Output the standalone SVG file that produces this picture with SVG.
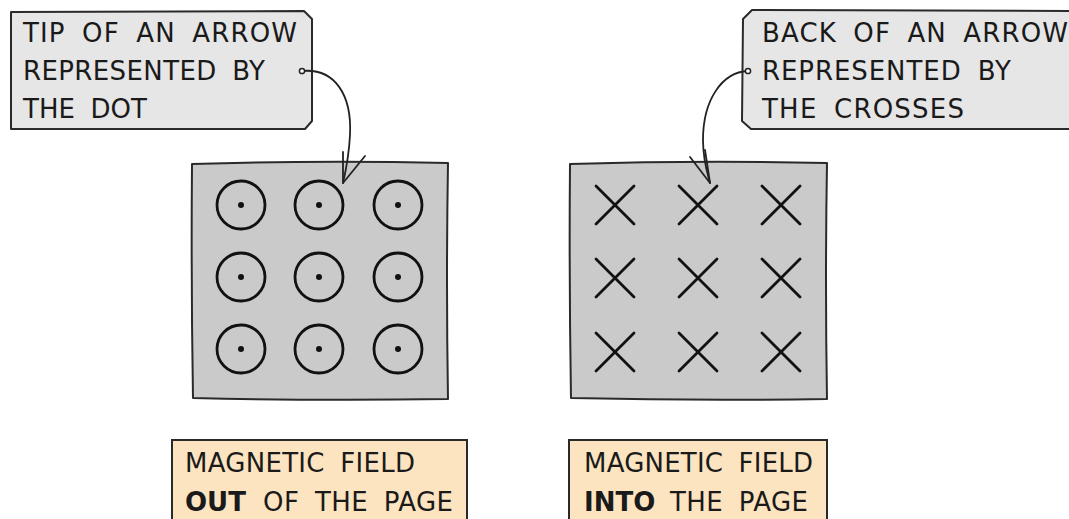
<svg xmlns="http://www.w3.org/2000/svg" width="1069" height="519" viewBox="0 0 1069 519">
<style>
.callout{fill:#e6e6e6;stroke:#2a2a2a;stroke-width:2;stroke-linejoin:round}
.panel{fill:#cacaca;stroke:#2a2a2a;stroke-width:2;stroke-linejoin:round}
.label{fill:#fde4c0;stroke:#2a2a2a;stroke-width:2}
.t{font-family:"DejaVu Sans","Liberation Sans",sans-serif;font-size:26px;word-spacing:7px;fill:#1a1a1a}
.b{font-weight:bold}
.ring{fill:none;stroke:#111;stroke-width:2.8}
.dot{fill:#111}
.x{stroke:#111;stroke-width:2.8;stroke-linecap:round}
.conn{fill:none;stroke:#222;stroke-width:1.8;stroke-linecap:round}
.pin{fill:#fff;stroke:#222;stroke-width:1.5}
</style>
<rect width="1069" height="519" fill="#ffffff"/>

<g id="callout-tip">
<path class="callout" d="M11,12 L304,11 L312,19 L312,121 L305,129 L11,129 Z"/>
<text class="t" x="23" y="42" textLength="274" lengthAdjust="spacing">TIP OF AN ARROW</text>
<text class="t" x="23" y="80" textLength="242" lengthAdjust="spacing">REPRESENTED BY</text>
<text class="t" x="23" y="118" textLength="124" lengthAdjust="spacing">THE DOT</text>
</g>

<g id="callout-back">
<path class="callout" d="M1075,11 L752,10 L743,19 L742,121 L751,129 L1075,129 Z"/>
<text class="t" x="762" y="42" textLength="306" lengthAdjust="spacing">BACK OF AN ARROW</text>
<text class="t" x="762" y="80" textLength="249" lengthAdjust="spacing">REPRESENTED BY</text>
<text class="t" x="762" y="118" textLength="202" lengthAdjust="spacing">THE CROSSES</text>
</g>

<g id="panel-out">
<path class="panel" d="M192,164 Q320,160 448,163 Q446,280 448,399 Q320,401 193,398 Q191,280 192,164 Z"/>
<g>
<circle class="ring" cx="241" cy="205" r="24"/><circle class="dot" cx="241" cy="205" r="3"/>
<circle class="ring" cx="319" cy="205" r="24"/><circle class="dot" cx="319" cy="205" r="3"/>
<circle class="ring" cx="398" cy="205" r="24"/><circle class="dot" cx="398" cy="205" r="3"/>
<circle class="ring" cx="241" cy="277" r="24"/><circle class="dot" cx="241" cy="277" r="3"/>
<circle class="ring" cx="319" cy="277" r="24"/><circle class="dot" cx="319" cy="277" r="3"/>
<circle class="ring" cx="398" cy="277" r="24"/><circle class="dot" cx="398" cy="277" r="3"/>
<circle class="ring" cx="241" cy="349" r="24"/><circle class="dot" cx="241" cy="349" r="3"/>
<circle class="ring" cx="319" cy="349" r="24"/><circle class="dot" cx="319" cy="349" r="3"/>
<circle class="ring" cx="398" cy="349" r="24"/><circle class="dot" cx="398" cy="349" r="3"/>
</g>
</g>

<g id="panel-into">
<path class="panel" d="M570,164 Q700,160 827,163 Q825,280 827,399 Q700,401 571,398 Q569,280 570,164 Z"/>
<g>
<path class="x" d="M596,186 L634,224 M634,186 L596,224"/>
<path class="x" d="M679,186 L717,224 M717,186 L679,224"/>
<path class="x" d="M762,186 L800,224 M800,186 L762,224"/>
<path class="x" d="M596,259 L634,297 M634,259 L596,297"/>
<path class="x" d="M679,259 L717,297 M717,259 L679,297"/>
<path class="x" d="M762,259 L800,297 M800,259 L762,297"/>
<path class="x" d="M596,333 L634,371 M634,333 L596,371"/>
<path class="x" d="M679,333 L717,371 M717,333 L679,371"/>
<path class="x" d="M762,333 L800,371 M800,333 L762,371"/>
</g>
</g>

<g id="label-out">
<rect class="label" x="172" y="440" width="295" height="90"/>
<text class="t" x="185" y="472" textLength="230" lengthAdjust="spacing">MAGNETIC FIELD</text>
<text class="t b" x="185" y="511">OUT</text>
<text class="t" x="263" y="511" textLength="190" lengthAdjust="spacing">OF THE PAGE</text>
</g>

<g id="label-into">
<rect class="label" x="569" y="440" width="258" height="90"/>
<text class="t" x="584" y="472" textLength="229" lengthAdjust="spacing">MAGNETIC FIELD</text>
<text class="t b" x="584" y="511">INTO</text>
<text class="t" x="670" y="511" textLength="138" lengthAdjust="spacing">THE PAGE</text>
</g>

<g id="connectors">
<path class="conn" d="M302,71 C335,68 352,95 350,135 C349,155 346,170 343,183"/>
<path class="conn" d="M343,183 L343,152 M343,183 L365,156"/>
<circle class="pin" cx="302" cy="71" r="2.6"/>
<path class="conn" d="M748,71 C722,72 703,100 703,140 C703,160 707,172 710,183"/>
<path class="conn" d="M710,183 L705,150 M710,183 L690,157"/>
<circle class="pin" cx="748" cy="71" r="2.6"/>
</g>
</svg>
